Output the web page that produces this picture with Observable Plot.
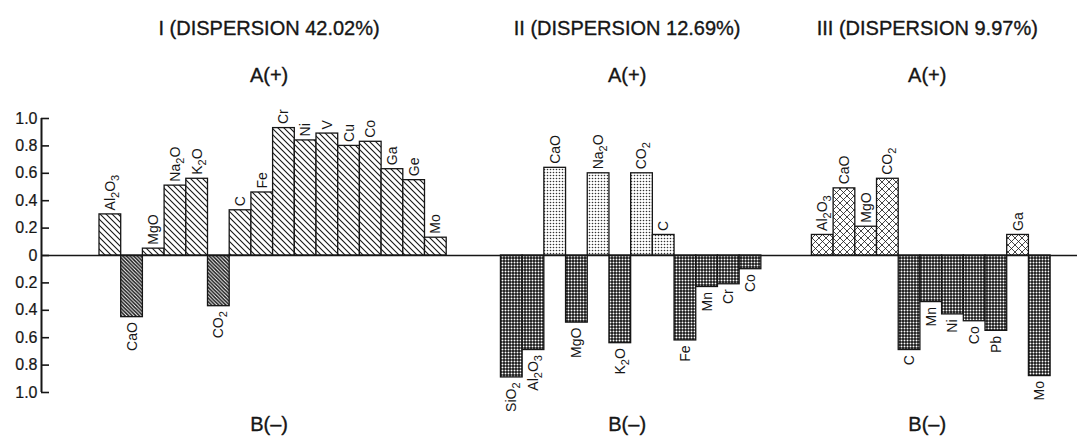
<!DOCTYPE html>
<html>
<head>
<meta charset="utf-8">
<script src="https://cdn.jsdelivr.net/npm/d3@7"></script>
<script src="https://cdn.jsdelivr.net/npm/@observablehq/plot@0.6"></script>
<style>
  html, body { margin: 0; padding: 0; background: #fff; }
  #chart svg { display: block; }
</style>
</head>
<body>
<div id="chart"></div>
<script>
// ---------- data ----------
const panelTitles = ["I (DISPERSION 42.02%)", "II (DISPERSION 12.69%)", "III (DISPERSION 9.97%)"];
const poleTop = "A(+)";
const poleBottom = "B(–)";

const p1Labels = ["Al₂O₃", "CaO", "MgO", "Na₂O", "K₂O", "CO₂", "C", "Fe", "Cr", "Ni", "V", "Cu", "Co", "Ga", "Ge", "Mo"];
const p1Values = [0.30, -0.45, 0.05, 0.51, 0.56, -0.37, 0.33, 0.46, 0.93, 0.84, 0.89, 0.80, 0.83, 0.63, 0.55, 0.13];

const p2Labels = ["SiO₂", "Al₂O₃", "CaO", "MgO", "Na₂O", "K₂O", "CO₂", "C", "Fe", "Mn", "Cr", "Co"];
const p2Values = [-0.89, -0.69, 0.64, -0.49, 0.60, -0.64, 0.60, 0.15, -0.62, -0.23, -0.21, -0.10];

const p3Labels = ["Al₂O₃", "CaO", "MgO", "CO₂", "C", "Mn", "Ni", "Co", "Pb", "Ga", "Mo"];
const p3Values = [0.15, 0.49, 0.21, 0.56, -0.69, -0.34, -0.43, -0.48, -0.55, 0.15, -0.88];

const yTicks = [-1, -0.8, -0.6, -0.4, -0.2, 0, 0.2, 0.4, 0.6, 0.8, 1];
const yTickLabels = ["1.0", "0.8", "0.6", "0.4", "0.2", "0", "0.2", "0.4", "0.6", "0.8", "1.0"];

// ---------- layout (slot units) ----------
const W = 1077, H = 442;
const axisX = 41, firstBarX = 99, slotPx = 21.7;
const gapsAfter = [2.5, 2.33];
const patterns = [["hatchPos", "hatchNeg"], ["dotPos", "dotNeg"], ["crossPos", "dotNeg"]];

const groups = [[p1Labels, p1Values], [p2Labels, p2Values], [p3Labels, p3Values]];
const rows = [];
const spans = [];
let s = 0;
groups.forEach(([labels, values], g) => {
  const start = s;
  labels.forEach((label, i) => rows.push({
    g, label, value: values[i], s: s + i,
    fill: `url(#${patterns[g][values[i] >= 0 ? 0 : 1]})`
  }));
  s += labels.length;
  spans.push([start, s]);
  if (g < gapsAfter.length) s += gapsAfter[g];
});
const xMin = -(firstBarX - axisX) / slotPx;
const xMax = (W - firstBarX) / slotPx;
const heads = panelTitles.map((t, i) => ({t, cx: (spans[i][0] + spans[i][1]) / 2}));

const ink = "#161616";
const font = "'Liberation Sans', Arial, Helvetica, sans-serif";
const headStyle = {fontSize: 20, fill: ink, stroke: ink, strokeWidth: 0.35, dx: -4};

const chart = Plot.plot({
  width: W,
  height: H,
  marginLeft: axisX,
  marginRight: 0,
  marginTop: 118,
  marginBottom: 50,
  style: {fontFamily: font, background: "#fff", color: ink},
  x: {domain: [xMin, xMax], axis: null},
  y: {domain: [-1, 1], axis: null},
  color: {type: "identity"},
  marks: [
    Plot.rect(rows, {x1: "s", x2: d => d.s + 1, y1: 0, y2: "value", fill: "fill", stroke: ink, strokeWidth: 1.3}),
    Plot.ruleY([0], {stroke: ink, strokeWidth: 1.6}),
    Plot.ruleX([xMin], {y1: -1, y2: 1, stroke: ink, strokeWidth: 2}),
    Plot.ruleY(yTicks, {x1: xMin, x2: xMin + 8 / slotPx, stroke: ink, strokeWidth: 1.6}),
    Plot.text(yTicks, {y: d => d, text: (d, i) => yTickLabels[i], frameAnchor: "left", textAnchor: "end", dx: -4, fontSize: 16, fill: ink, stroke: ink, strokeWidth: 0.2}),
    // bar labels
    Plot.text(rows.filter(d => d.value >= 0), {x: d => d.s + 0.5, y: "value", text: "label", rotate: -90, textAnchor: "start", dy: -4, fontSize: 14, fill: ink}),
    Plot.text(rows.filter(d => d.value < 0), {x: d => d.s + 0.5, y: "value", text: "label", rotate: -90, textAnchor: "end", dy: 5, fontSize: 14, fill: ink}),
    // headings
    Plot.text(heads, {x: "cx", text: "t", frameAnchor: "top", dy: -98, ...headStyle}),
    Plot.text(heads, {x: "cx", text: () => poleTop, frameAnchor: "top", dy: -51, ...headStyle}),
    Plot.text(heads, {x: "cx", text: () => poleBottom, frameAnchor: "bottom", dy: 38, ...headStyle})
  ]
});

// pattern definitions
const NS = "http://www.w3.org/2000/svg";
const defs = document.createElementNS(NS, "defs");
defs.innerHTML = `
  <pattern id="hatchPos" patternUnits="userSpaceOnUse" width="6" height="6">
    <rect width="6" height="6" fill="#fff"/>
    <path d="M0,0L6,6M-1,5L1,7M5,-1L7,1" stroke="${ink}" stroke-width="1.1"/>
  </pattern>
  <pattern id="hatchNeg" patternUnits="userSpaceOnUse" width="3.6" height="3.6">
    <rect width="3.6" height="3.6" fill="#fff"/>
    <path d="M0,0L3.6,3.6M-1,2.6L1,4.6M2.6,-1L4.6,1" stroke="${ink}" stroke-width="1.5"/>
  </pattern>
  <pattern id="dotPos" patternUnits="userSpaceOnUse" width="3" height="3">
    <rect width="3" height="3" fill="#fff"/>
    <circle cx="1.5" cy="1.5" r="0.8" fill="#333"/>
  </pattern>
  <pattern id="dotNeg" patternUnits="userSpaceOnUse" width="3" height="3">
    <rect width="3" height="3" fill="${ink}"/>
    <circle cx="1.5" cy="1.5" r="1.0" fill="#fff"/>
  </pattern>
  <pattern id="crossPos" patternUnits="userSpaceOnUse" width="7" height="7">
    <rect width="7" height="7" fill="#fff"/>
    <path d="M0,0L7,7M7,0L0,7M-1,6L1,8M6,-1L8,1M-1,1L1,-1M6,8L8,6" stroke="${ink}" stroke-width="0.8"/>
  </pattern>`;
chart.insertBefore(defs, chart.firstChild);

// render subscript digits of the bar labels as shifted tspans
const subDigits = "₀₁₂₃₄₅₆₇₈₉";
chart.querySelectorAll("text").forEach(t => {
  const str = t.textContent;
  if (![...str].some(c => subDigits.includes(c))) return;
  t.textContent = "";
  let lowered = false;
  for (const c of str) {
    const k = subDigits.indexOf(c);
    const ts = document.createElementNS(NS, "tspan");
    if (k >= 0) {
      ts.textContent = String(k);
      ts.setAttribute("font-size", "11");
      if (!lowered) { ts.setAttribute("dy", "4"); lowered = true; }
    } else {
      ts.textContent = c;
      if (lowered) { ts.setAttribute("dy", "-4"); lowered = false; }
    }
    t.appendChild(ts);
  }
});

document.getElementById("chart").appendChild(chart);
</script>
</body>
</html>
